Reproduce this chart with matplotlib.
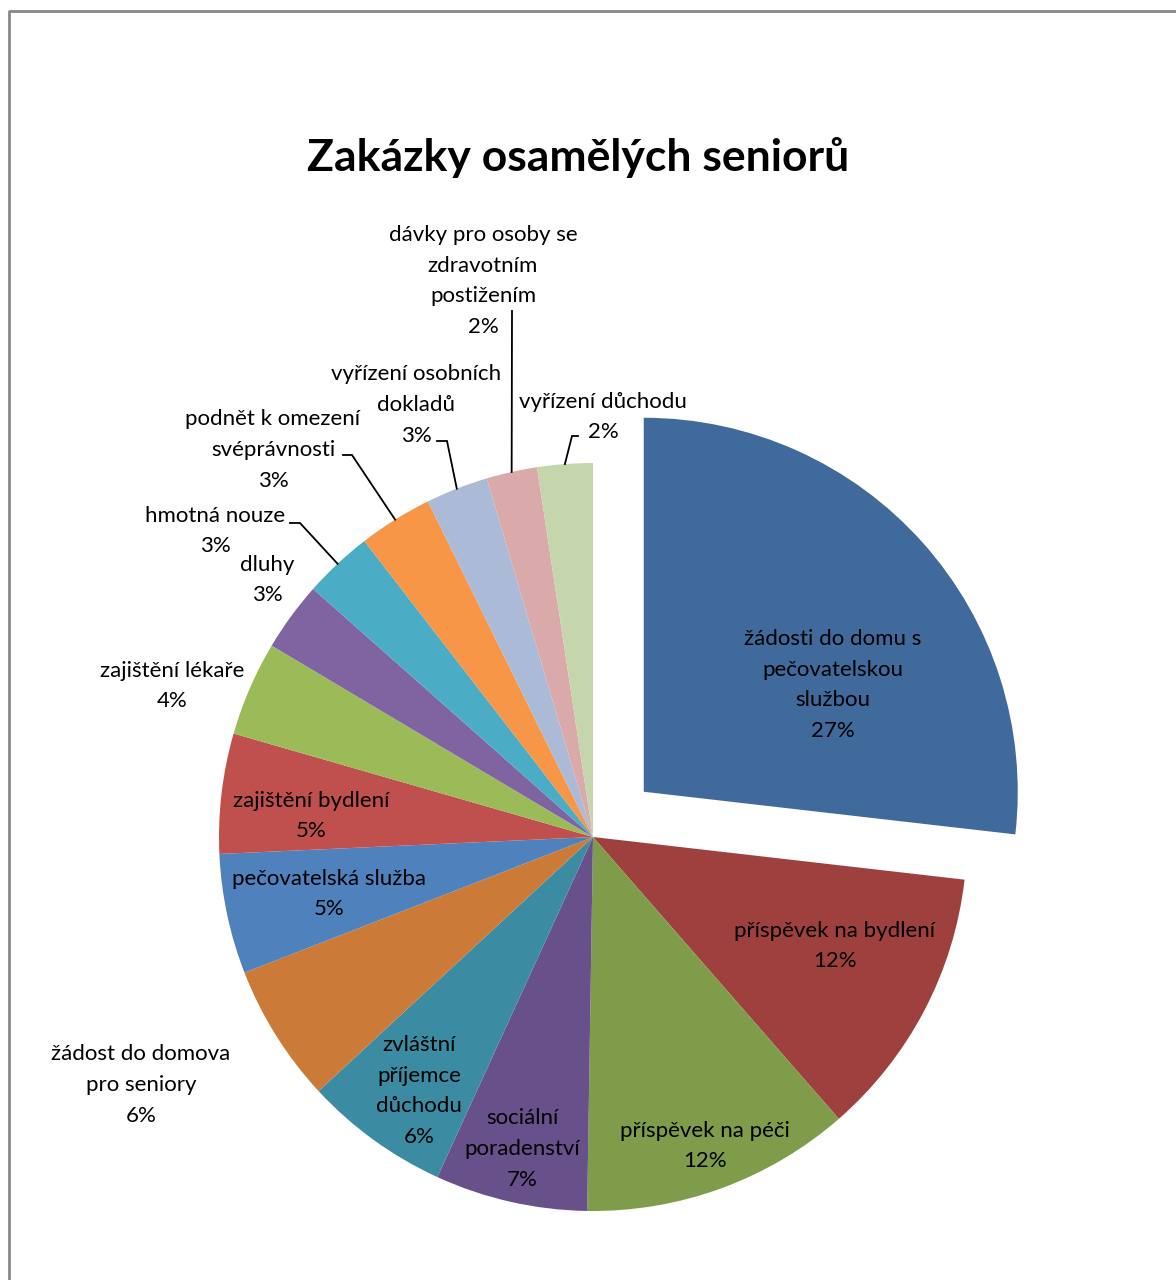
import matplotlib
matplotlib.use('Agg')
import matplotlib.pyplot as plt
import numpy as np

W, H = 1176, 1280

categories = [
    'žádosti do domu s\npečovatelskou\nslužbou',
    'příspěvek na bydlení',
    'příspěvek na péči',
    'sociální\nporadenství',
    'zvláštní\npříjemce\ndůchodu',
    'žádost do domova\npro seniory',
    'pečovatelská služba',
    'zajištění bydlení',
    'zajištění lékaře',
    'dluhy',
    'hmotná nouze',
    'podnět k omezení\nsvéprávnosti',
    'vyřízení osobních\ndokladů',
    'dávky pro osoby se\nzdravotním\npostižením',
    'vyřízení důchodu',
]
shares = [26.9, 11.8, 11.7, 6.6, 6.3, 6.0, 5.2, 5.2, 4.1, 3.0, 3.0, 3.2, 2.7, 2.2, 2.4]
colors = ['#416A9C', '#9E413E', '#7F9C4A', '#68518A', '#3B8CA3', '#CC7A37',
          '#4F81BD', '#C0504D', '#9BBB59', '#8064A2', '#4BACC6', '#F79646',
          '#AABAD7', '#D9AAA9', '#C6D6AC']

# label anchor (pixel coords, top-left origin)
label_pos = [(833, 685), (835, 946), (705, 1146), (522, 1149), (419, 1091),
             (141, 1085), (329, 894), (311, 816), (172, 686), (267, 580),
             (215, 531), (273, 450), (416, 405), (483, 281), (603, 417)]
# leader: (start x, start y, elbow x) -> goes to wedge edge
leaders = {10: (290, 523, 300), 11: (343, 455, 352), 12: (437, 441, 447),
           13: (512, 311, 512), 14: (578, 436, 572)}

FONT = 'Lato'
fig = plt.figure(figsize=(W / 100, H / 100), dpi=100)
ax = fig.add_axes([0, 0, 1, 1])

cx, cy, R = 593, H - 837, 374
explode = [68] + [0] * (len(shares) - 1)  # offset in pixels (pie doesn't scale by radius)
wedges, _ = ax.pie(shares, colors=colors, startangle=90, counterclock=False,
                   radius=R, center=(cx, cy), explode=explode,
                   wedgeprops=dict(linewidth=0), frame=True)
ax.set_xlim(0, W)
ax.set_ylim(0, H)
ax.set_aspect('equal')
ax.axis('off')

total = sum(shares)
for i, (lab, v) in enumerate(zip(categories, shares)):
    pct = round(100 * v / total)
    x, y = label_pos[i]
    ax.text(x, H - y, f'{lab}\n{pct}%', ha='center', va='center',
            fontsize=16, family=FONT, linespacing=1.66, color='black')

for i, (sx, sy, ex) in leaders.items():
    w = wedges[i]
    mid = np.deg2rad((w.theta1 + w.theta2) / 2)
    px, py = cx + R * np.cos(mid), cy + R * np.sin(mid)
    ax.plot([sx, ex, px], [H - sy, H - sy, py], color='black', lw=1.3,
            solid_joinstyle='miter')

ax.text(578, H - 158, 'Zakázky osamělých seniorů', ha='center', va='center',
        fontsize=32, fontweight='bold', family=FONT)

# chart border (only left/top visible in the crop)
ax.plot([9, 9, W + 5], [-5, H - 11, H - 11], color='#888888', lw=2)

fig.savefig('out.png', dpi=100)
